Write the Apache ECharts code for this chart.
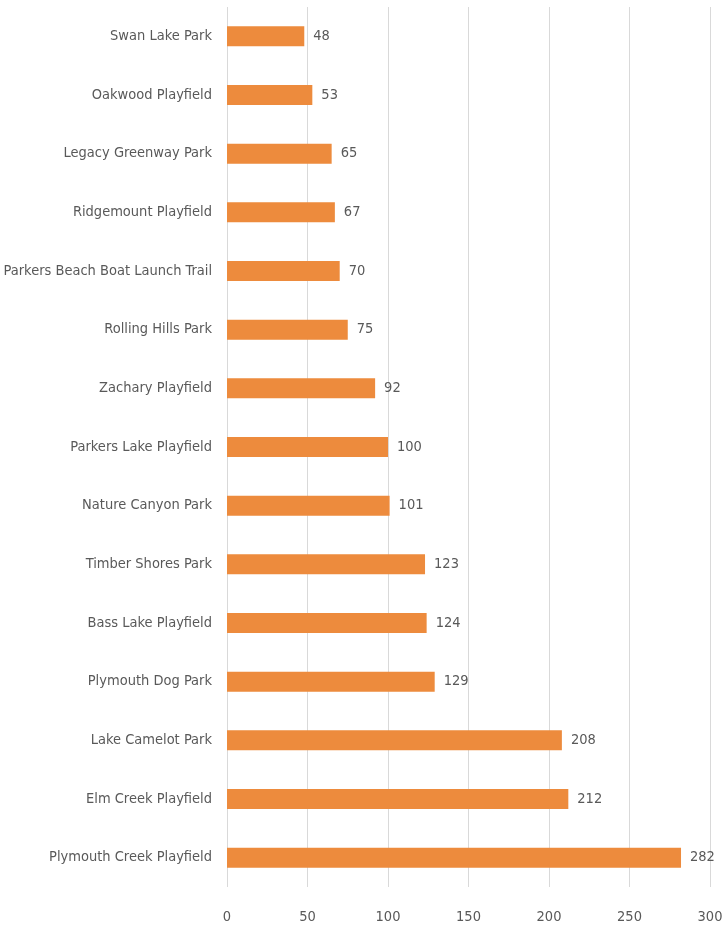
<!DOCTYPE html>
<html><head><meta charset="utf-8">
<script src="https://cdn.jsdelivr.net/npm/echarts@6/dist/echarts.min.js"></script>
<style>html,body{margin:0;padding:0;background:#fff}#c{width:723px;height:926px}</style>
</head><body><div id="c"></div>
<script>
var categories = ["Swan Lake Park","Oakwood Playfield","Legacy Greenway Park","Ridgemount Playfield","Parkers Beach Boat Launch Trail","Rolling Hills Park","Zachary Playfield","Parkers Lake Playfield","Nature Canyon Park","Timber Shores Park","Bass Lake Playfield","Plymouth Dog Park","Lake Camelot Park","Elm Creek Playfield","Plymouth Creek Playfield"];
var values = [48,53,65,67,70,75,92,100,101,123,124,129,208,212,282];
var xTicks = [0,50,100,150,200,250,300];
var font = '"DejaVu Sans Condensed", "Liberation Sans Narrow", sans-serif';
var chart = echarts.init(document.getElementById('c'));
chart.setOption({
  animation:false,
  grid:{left:227,right:13,top:7,bottom:39,containLabel:false,outerBoundsMode:'none'},
  xAxis:{type:'value',min:xTicks[0],max:xTicks[xTicks.length-1],interval:50,
    axisLine:{show:false},axisTick:{show:false},
    splitLine:{lineStyle:{color:'#d9d9d9',width:1}},
    axisLabel:{color:'#595959',fontSize:14.5,fontFamily:font,margin:23}},
  yAxis:{type:'category',data:categories,inverse:true,
    axisLine:{show:false},axisTick:{show:false},
    axisLabel:{color:'#595959',fontSize:14.5,fontFamily:font,margin:15}},
  series:[{type:'bar',data:values,barWidth:20,
    itemStyle:{color:'#ED8B3D'},
    label:{show:true,position:'right',distance:9,color:'#595959',fontSize:14.5,fontFamily:font}}]
});
</script></body></html>
